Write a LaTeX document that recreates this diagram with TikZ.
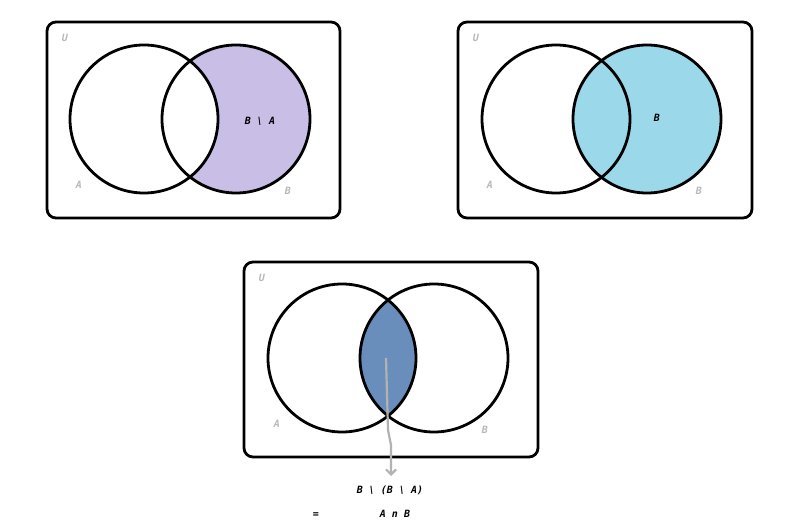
\documentclass[tikz,border=0pt]{standalone}
\usepackage{fontspec}
\setmainfont{DejaVu Sans Mono}
\usetikzlibrary{arrows.meta}
\begin{document}
\begin{tikzpicture}[x=1pt,y=-1pt,
  box/.style={line width=2.8pt,rounded corners=9pt},
  circ/.style={line width=2.8pt},
  lbl/.style={text=black!28,font=\itshape\bfseries\fontsize{10}{12}\selectfont},
  txt/.style={font=\itshape\bfseries\fontsize{10}{12}\selectfont}]
\useasboundingbox (0,0) rectangle (800,532);
\definecolor{lav}{RGB}{200,190,230}
\definecolor{cy}{RGB}{155,217,234}
\definecolor{bl}{RGB}{106,142,188}
% panel 1
\begin{scope}[even odd rule]
\clip (144,119) circle (74) (0,0) rectangle (800,532);
\fill[lav] (236,119) circle (74);
\end{scope}
\draw[box] (47,22) rectangle (340,218);
\draw[circ] (144,119) circle (74);
\draw[circ] (236,119) circle (74);
\node[lbl] (u1) at (65,38) {U};
\node[lbl] (a1) at (79,185) {A};
\node[lbl] (b1) at (288,191) {B};
\node[txt] (t1) at (260,121) {B \textbackslash{} A};
% panel 2
\fill[cy] (647,119) circle (74);
\draw[box] (458,22) rectangle (752,218);
\draw[circ] (556,119) circle (74);
\draw[circ] (647,119) circle (74);
\node[lbl] (u2) at (476,38) {U};
\node[lbl] (a2) at (490,185) {A};
\node[lbl] (b2) at (699,191) {B};
\node[txt] (t2) at (657,118) {B};
% panel 3
\begin{scope}
\clip (342,358) circle (74);
\fill[bl] (434,358) circle (74);
\end{scope}
\draw[box] (244,262) rectangle (538,457);
\draw[circ] (342,358) circle (74);
\draw[circ] (434,358) circle (74);
\node[lbl] (u3) at (262,278) {U};
\node[lbl] (a3) at (277,424) {A};
\node[lbl] (b3) at (485,430) {B};
\coordinate (s) at (386,358);
\node[txt] (t3) at (390,490) {B \textbackslash{} (B \textbackslash{} A)};
\node[txt] (eq) at (316,515) {=};
\node[txt] (t4) at (395,514) {A n B};
\draw[black!30,line width=2.2pt,-{Straight Barb[length=5pt]}] (s) -- (388,430) -- (391,445) -- (391,476);
\end{tikzpicture}
\end{document}
